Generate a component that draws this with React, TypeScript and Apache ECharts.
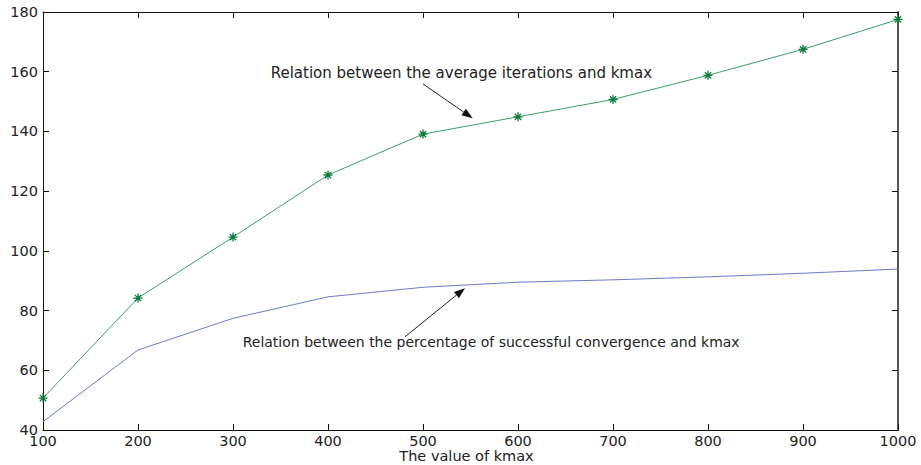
import React, { useEffect, useRef } from "react";
import * as echarts from "echarts";

const kmax = [100, 200, 300, 400, 500, 600, 700, 800, 900, 1000];
const avgIterations = [50.7, 84.2, 104.6, 125.4, 139.1, 144.9, 150.7, 158.8, 167.5, 177.5];
const successPct = [42.8, 66.8, 77.4, 84.6, 87.8, 89.5, 90.3, 91.3, 92.5, 93.9];
const xAxisTitle = "The value of kmax";

const annotationTexts = [
  "Relation between the average iterations and kmax",
  "Relation between the percentage of successful convergence and kmax",
];
// annotation anchors in data coordinates: [text left, arrow start, arrow tip]
const annotationTextAt = [[339.7, 159.6], [310.2, 69.4]];
const annotationFrom = [[500, 155.9], [481, 71.2]];
const annotationTo = [[552.3, 144.4], [544.2, 87.5]];
const annotationFontSize = [15, 14];

const FONT = "DejaVu Sans";
const STAR = "path://M0,-5L0,5M-5,0L5,0M-3.5,-3.5L3.5,3.5M-3.5,3.5L3.5,-3.5";

export default function App() {
  const ref = useRef<HTMLDivElement>(null);
  useEffect(() => {
    if (!ref.current) return;
    const chart = echarts.init(ref.current, null, { renderer: "svg" });
    const axisLine = { show: true, lineStyle: { color: "#111", width: 1 } };
    const tick = { show: true, inside: true, length: 6, lineStyle: { color: "#111" } };
    const label = { color: "#222", fontFamily: FONT, fontSize: 14.5, formatter: (v: number) => String(v) };
    chart.setOption({
      animation: false,
      backgroundColor: "#fff",
      grid: { left: 43, right: 23, top: 12, bottom: 35, containLabel: false, outerBoundsMode: "none" },
      xAxis: [
        {
          type: "value", min: 100, max: 1000, interval: 100, position: "bottom",
          axisLine, axisTick: tick, splitLine: { show: false },
          axisLabel: { ...label, margin: 3 },
        },
        {
          type: "value", min: 100, max: 1000, interval: 100, position: "top",
          axisLine, axisTick: tick, splitLine: { show: false }, axisLabel: { show: false },
        },
      ],
      yAxis: [
        {
          type: "value", min: 40, max: 180, interval: 20, position: "left",
          axisLine, axisTick: tick, splitLine: { show: false },
          axisLabel: { ...label, margin: 5 },
        },
        {
          type: "value", min: 40, max: 180, interval: 20, position: "right",
          axisLine: { show: true, lineStyle: { color: "#555", width: 2 } },
          axisTick: tick, splitLine: { show: false }, axisLabel: { show: false },
        },
      ],
      series: [
        {
          type: "line",
          data: kmax.map((k, i) => [k, avgIterations[i]]),
          lineStyle: { color: "#3a9f68", width: 1 },
          symbol: STAR, symbolSize: 9, showSymbol: true,
          itemStyle: { color: "rgba(0,0,0,0)", borderColor: "#0b7a3c", borderWidth: 1.3 },
        },
        {
          type: "line",
          data: kmax.map((k, i) => [k, successPct[i]]),
          lineStyle: { color: "#6a7dc8", width: 1 },
          showSymbol: false,
        },
      ],
    });

    const toPx = (p: number[]) => chart.convertToPixel({ xAxisIndex: 0, yAxisIndex: 0 }, p) as number[];
    const graphic: any[] = [];
    const left = toPx([100, 40]);
    const right = toPx([1000, 40]);
    graphic.push({
      type: "text", x: (left[0] + right[0]) / 2 - 4, y: left[1] + 26,
      style: { text: xAxisTitle, fill: "#222", font: `14.5px "${FONT}"`, verticalAlign: "middle", align: "center" },
    });
    annotationTexts.forEach((t, i) => {
      const tp = toPx(annotationTextAt[i]);
      const a = toPx(annotationFrom[i]);
      const b = toPx(annotationTo[i]);
      graphic.push({
        type: "text", x: tp[0], y: tp[1],
        style: { text: t, fill: "#222", font: `${annotationFontSize[i]}px "${FONT}"`, verticalAlign: "middle", align: "left" },
      });
      const dx = b[0] - a[0], dy = b[1] - a[1];
      const len = Math.hypot(dx, dy);
      const ux = dx / len, uy = dy / len;
      const L = 11, W = 4;
      const bx = b[0] - ux * L, by = b[1] - uy * L;
      graphic.push({
        type: "line",
        shape: { x1: a[0], y1: a[1], x2: bx, y2: by },
        style: { stroke: "#222", lineWidth: 1 },
      });
      graphic.push({
        type: "polygon",
        shape: { points: [[b[0], b[1]], [bx - uy * W, by + ux * W], [bx + uy * W, by - ux * W]] },
        style: { fill: "#111" },
      });
    });
    chart.setOption({ graphic });
    return () => chart.dispose();
  }, []);
  return <div ref={ref} style={{ position: "absolute", left: 0, top: 0, width: 921, height: 465 }} />;
}
